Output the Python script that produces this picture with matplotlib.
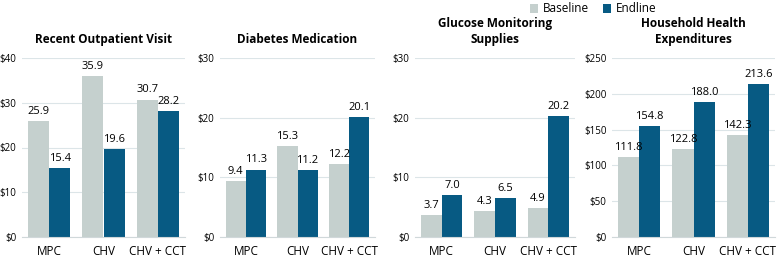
import numpy as np
import matplotlib
matplotlib.use("Agg")
import matplotlib.pyplot as plt

groups = ["MPC", "CHV", "CHV + CCT"]
titles = ["Recent Outpatient Visit", "Diabetes Medication",
          "Glucose Monitoring\nSupplies", "Household Health\nExpenditures"]
baseline = [[25.9, 35.9, 30.7],
            [9.4, 15.3, 12.2],
            [3.7, 4.3, 4.9],
            [111.8, 122.8, 142.3]]
endline = [[15.4, 19.6, 28.2],
           [11.3, 11.2, 20.1],
           [7.0, 6.5, 20.2],
           [154.8, 188.0, 213.6]]
yticks = [[0, 10, 20, 30, 40],
          [0, 10, 20, 30],
          [0, 10, 20, 30],
          [0, 50, 100, 150, 200, 250]]

c_base = "#c5d0ce"
c_end = "#075a83"
plt.rcParams['font.family'] = ['Open Sans', 'DejaVu Sans']

W, H = 778, 257
fig = plt.figure(figsize=(W / 100, H / 100), dpi=100)

# pixel extents of each panel's plot area
lefts = [22, 220, 415, 612]
rights = [185, 375, 575, 775]
top, bottom = 58, 237

w = 0.39
x = np.arange(len(groups))
for i in range(4):
    ax = fig.add_axes([lefts[i] / W, (H - bottom) / H,
                       (rights[i] - lefts[i]) / W, (bottom - top) / H])
    b1 = ax.bar(x - w / 2, baseline[i], w, color=c_base, zorder=3)
    b2 = ax.bar(x + w / 2, endline[i], w, color=c_end, zorder=3)
    ax.bar_label(b1, fmt="%.1f", padding=3, fontsize=8)
    ax.bar_label(b2, fmt="%.1f", padding=3, fontsize=8)
    ax.set_xlim(-0.5, 2.5)
    ax.set_ylim(0, yticks[i][-1])
    ax.set_yticks(yticks[i])
    ax.set_yticklabels(["$%d" % t for t in yticks[i]], fontsize=7)
    ax.set_xticks(x)
    ax.set_xticklabels(groups, fontsize=8.5)
    ax.tick_params(length=0, pad=4)
    ax.tick_params(axis="x", pad=6)
    ax.grid(axis="y", color="#dce5e8", linewidth=0.8, zorder=0)
    for s in ["left", "right", "top"]:
        ax.spines[s].set_visible(False)
    ax.spines["bottom"].set_color("#d0d8da")
    ax.spines["bottom"].set_zorder(4)
    ax.set_title(titles[i], fontsize=8.5, fontweight="bold", pad=11,
                 linespacing=1.25)
    if i == 0:
        fig.legend([b1, b2], ["Baseline", "Endline"], loc="center",
                   bbox_to_anchor=(593 / W, 1 - 9 / H), ncol=2, frameon=False,
                   fontsize=8.5, handlelength=0.7, handleheight=0.7,
                   handletextpad=0.4, columnspacing=1.2)

fig.savefig("out.png", dpi=100)
